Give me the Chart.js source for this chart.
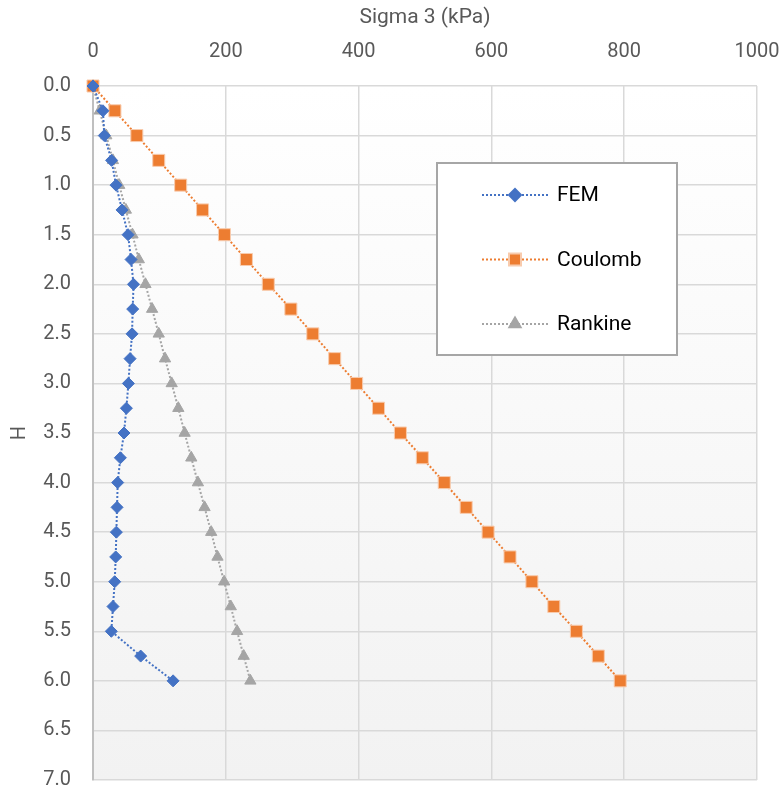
<!DOCTYPE html>
<html lang="en">
<head>
  <meta charset="UTF-8">
  <title>Sigma 3 vs H</title>
  <script src="https://cdn.jsdelivr.net/npm/chart.js"></script>
  <style>
    body { margin: 0; background: #fff; }
    #wrap { width: 783px; height: 790px; }
  </style>
</head>
<body>
  <div id="wrap">
    <canvas id="sigmaChart" width="783" height="790"></canvas>
  </div>
  <script>
    // values
    const depth = [0, 0.25, 0.5, 0.75, 1.0, 1.25, 1.5, 1.75, 2.0, 2.25, 2.5, 2.75, 3.0,
                   3.25, 3.5, 3.75, 4.0, 4.25, 4.5, 4.75, 5.0, 5.25, 5.5, 5.75, 6.0];
    const femValues = [0, 15, 17, 28, 34.7, 43.7, 52.8, 57.3, 61, 59.8, 58.8, 55.8, 53.3,
                       50.3, 46.7, 41.2, 37.2, 36.2, 35.2, 34.2, 32.7, 30.1, 27.6, 71.8, 120.6];
    const coulombValues = [0, 33, 66, 99, 132, 165, 198, 231, 264, 298, 331, 364, 397,
                           430, 463, 496, 529, 562, 595, 628, 661, 694, 728, 761, 794];
    const rankineValues = [0, 10, 20, 30, 39.5, 49.5, 59.5, 69, 79, 89, 99, 108.5, 118.5,
                           128.5, 138, 148, 158, 168, 178, 187.5, 197.5, 207.5, 217, 227, 237];
    const seriesNames = ["FEM", "Coulomb", "Rankine"];
    const xTitle = "Sigma 3 (kPa)";
    const yTitle = "H";

    const FONT = "Roboto, 'Liberation Sans', sans-serif";
    const TEXT = "#595959";

    function toPoints(values) {
      return values.map((v, i) => ({ x: v, y: depth[i] }));
    }

    // plot area background: white at top fading to light gray
    const bgPlugin = {
      id: "plotBg",
      beforeDraw(chart) {
        const { ctx, chartArea: a } = chart;
        const g = ctx.createLinearGradient(0, a.top, 0, a.bottom);
        g.addColorStop(0, "#ffffff");
        g.addColorStop(1, "#f2f2f2");
        ctx.save();
        ctx.fillStyle = g;
        ctx.fillRect(a.left, a.top, a.right - a.left, a.bottom - a.top);
        ctx.restore();
      }
    };

    // boxed legend sitting inside the plot
    const legendBox = {
      id: "legendBox",
      afterDraw(chart) {
        const ctx = chart.ctx;
        const bx = 437, by = 163, bw = 240, bh = 192;
        ctx.save();
        ctx.fillStyle = "#ffffff";
        ctx.fillRect(bx, by, bw, bh);
        ctx.strokeStyle = "#a6a6a6";
        ctx.lineWidth = 2;
        ctx.strokeRect(bx, by, bw, bh);
        chart.data.datasets.forEach((ds, i) => {
          const y = 195 + i * 64.5;
          ctx.strokeStyle = ds.borderColor;
          ctx.lineWidth = ds.borderWidth;
          ctx.setLineDash(ds.borderDash);
          ctx.beginPath();
          ctx.moveTo(482, y);
          ctx.lineTo(548, y);
          ctx.stroke();
          ctx.setLineDash([]);
          ctx.fillStyle = ds.pointBackgroundColor;
          ctx.strokeStyle = ds.pointBorderColor;
          Chart.helpers.drawPoint(ctx, {
            pointStyle: ds.pointStyle,
            radius: ds.pointRadius,
            borderWidth: ds.pointBorderWidth,
            rotation: 0
          }, 515, y);
          ctx.fillStyle = "#000000";
          ctx.font = "21px " + FONT;
          ctx.textBaseline = "middle";
          ctx.textAlign = "left";
          ctx.fillText(ds.label, 557, y + 1);
        });
        ctx.restore();
      }
    };

    function createSigmaChart() {
      const ctx = document.getElementById("sigmaChart").getContext("2d");
      new Chart(ctx, {
        type: "scatter",
        data: {
          datasets: [{
            label: seriesNames[0],
            data: toPoints(femValues),
            showLine: true,
            clip: false,
            borderColor: "#4472c4",
            borderWidth: 2,
            borderDash: [2, 2],
            pointStyle: "rectRot",
            pointRadius: 6,
            pointBackgroundColor: "#4472c4",
            pointBorderColor: "#4472c4",
            pointBorderWidth: 1
          }, {
            label: seriesNames[1],
            data: toPoints(coulombValues),
            showLine: true,
            clip: false,
            borderColor: "#ed7d31",
            borderWidth: 2,
            borderDash: [2, 2],
            pointStyle: "rect",
            pointRadius: 8.5,
            pointBackgroundColor: "#ed7d31",
            pointBorderColor: "#f8cbad",
            pointBorderWidth: 1
          }, {
            label: seriesNames[2],
            data: toPoints(rankineValues),
            showLine: true,
            clip: false,
            borderColor: "#a5a5a5",
            borderWidth: 2,
            borderDash: [2, 2],
            pointStyle: "triangle",
            pointRadius: 6.5,
            pointBackgroundColor: "#a5a5a5",
            pointBorderColor: "#a5a5a5",
            pointBorderWidth: 1
          }]
        },
        options: {
          responsive: false,
          animation: false,
          layout: { padding: { left: 0, right: 26, top: 0, bottom: 10 } },
          plugins: {
            legend: { display: false },
            tooltip: { enabled: false }
          },
          scales: {
            x: {
              type: "linear",
              position: "top",
              min: 0,
              max: 1000,
              ticks: {
                stepSize: 200, color: TEXT, font: { family: FONT, size: 20 }, padding: 22,
                callback: v => String(v)
              },
              grid: { color: "#d9d9d9", lineWidth: 1.5, drawTicks: false },
              border: { display: false },
              title: { display: true, text: xTitle, color: TEXT, font: { family: FONT, size: 21 }, padding: { top: 5, bottom: 4 } },
              afterFit(scale) {
                scale.height = 86;
                scale.paddingLeft = 0;
                scale.paddingRight = 0;
              }
            },
            y: {
              type: "linear",
              reverse: true,
              min: 0,
              max: 7,
              ticks: {
                stepSize: 0.5, color: TEXT, font: { family: FONT, size: 20 }, padding: 22,
                callback: v => v.toFixed(1)
              },
              grid: { color: "#d9d9d9", lineWidth: 1.5, drawTicks: false },
              border: { color: "#bfbfbf", width: 2 },
              title: { display: true, text: yTitle, color: TEXT, font: { family: FONT, size: 20 }, padding: { top: 8, bottom: 0 } },
              afterFit(scale) {
                scale.width = 93;
                scale.paddingTop = 0;
                scale.paddingBottom = 0;
              }
            }
          }
        },
        plugins: [bgPlugin, legendBox]
      });
    }

    document.addEventListener("DOMContentLoaded", () => {
      createSigmaChart();
    });
  </script>
</body>
</html>
